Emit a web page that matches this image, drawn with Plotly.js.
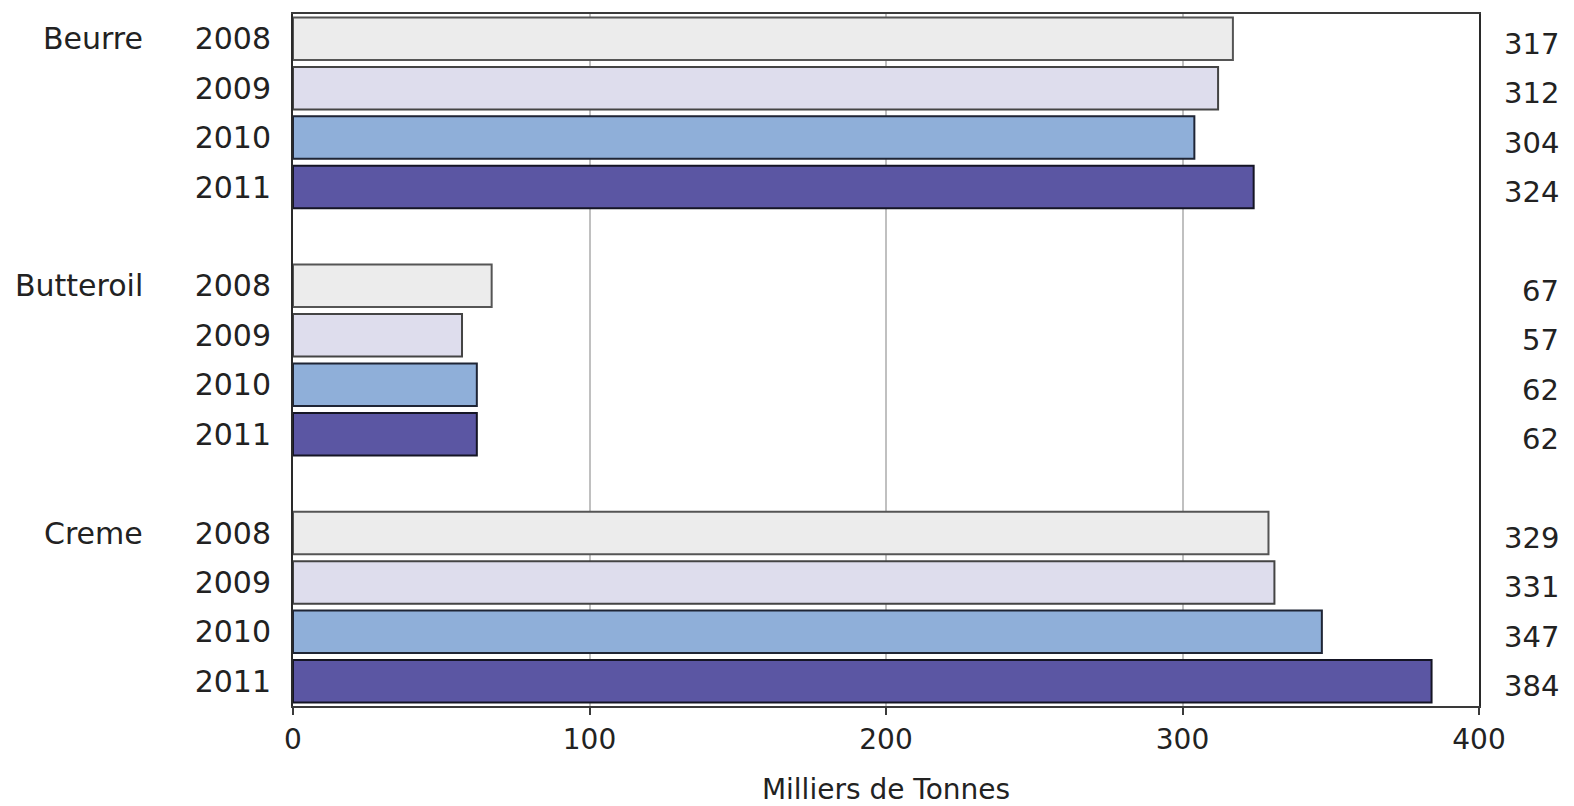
<!DOCTYPE html>
<html>
<head>
<meta charset="utf-8">
<script src="https://cdn.plot.ly/plotly-3.0.1.min.js"></script>
<style>html,body{margin:0;padding:0;background:#fff;}#chart{width:1574px;height:806px;}</style>
</head>
<body>
<div id="chart"></div>
<script>
// Data
const groups = ["Beurre", "Butteroil", "Creme"];
const years = ["2008", "2009", "2010", "2011"];
const values2008 = [317, 67, 329];
const values2009 = [312, 57, 331];
const values2010 = [304, 62, 347];
const values2011 = [324, 62, 384];
const axisTickVals = [0, 100, 200, 300, 400];
const xTitle = "Milliers de Tonnes";

const seriesValues = [values2008, values2009, values2010, values2011];
const colors = ["#ececec", "#dedded", "#8fafd9", "#5b56a3"];
const lineColors = ["#555555", "#444444", "#1f2535", "#151525"];
const font = "DejaVu Sans, Arial, sans-serif";

// slot index: each group occupies 4 rows plus a blank row
const slot = (g, yi) => g * (years.length + 1) + yi;

const traces = years.map((yr, yi) => ({
  type: "bar",
  orientation: "h",
  name: yr,
  x: seriesValues[yi],
  y: groups.map((g, gi) => slot(gi, yi)),
  marker: { color: colors[yi], line: { color: lineColors[yi], width: 2 } },
  hoverinfo: "x",
  showlegend: false
}));

const tickvals = [], ticktext = [];
groups.forEach((g, gi) => years.forEach((yr, yi) => { tickvals.push(slot(gi, yi)); ticktext.push(yr); }));

const annotations = [];
groups.forEach((g, gi) => {
  annotations.push({
    text: g, xref: "paper", yref: "y", x: -0.1245, y: slot(gi, 0),
    xanchor: "right", yanchor: "middle", showarrow: false,
    font: { family: font, size: 30, color: "#222" }
  });
  years.forEach((yr, yi) => {
    annotations.push({
      text: String(seriesValues[yi][gi]), xref: "paper", yref: "y", x: 1.0695, y: slot(gi, yi),
      xanchor: "right", yanchor: "middle", yshift: -5, showarrow: false,
      font: { family: font, size: 29, color: "#222" }
    });
  });
});

const nSlots = groups.length * (years.length + 1) - 1;

const layout = {
  width: 1574, height: 806,
  margin: { l: 293, r: 95, t: 14, b: 100 },
  paper_bgcolor: "#fff", plot_bgcolor: "#fff",
  bargap: 0.14,
  barmode: "group",
  xaxis: {
    range: [0, 400], tickvals: axisTickVals, showgrid: true,
    gridcolor: "#c0c0c0", gridwidth: 2, zeroline: false,
    showline: true, linecolor: "#3a3a3a", linewidth: 2, mirror: true,
    ticks: "outside", ticklen: 7, tickwidth: 2, tickcolor: "#3a3a3a",
    tickfont: { family: font, size: 28, color: "#222" },
    title: { text: xTitle, font: { family: font, size: 28, color: "#222" }, standoff: 26 },
    fixedrange: true
  },
  yaxis: {
    range: [nSlots - 0.5, -0.5], tickvals: tickvals, ticktext: ticktext,
    showgrid: false, zeroline: false, ticks: "",
    showline: true, linecolor: "#2a2a2a", linewidth: 2, mirror: true,
    tickfont: { family: font, size: 30, color: "#222" },
    ticklabelstandoff: 14,
    fixedrange: true
  },
  annotations: annotations
};

Plotly.newPlot("chart", traces, layout, { displayModeBar: false, staticPlot: true });
</script>
</body>
</html>
